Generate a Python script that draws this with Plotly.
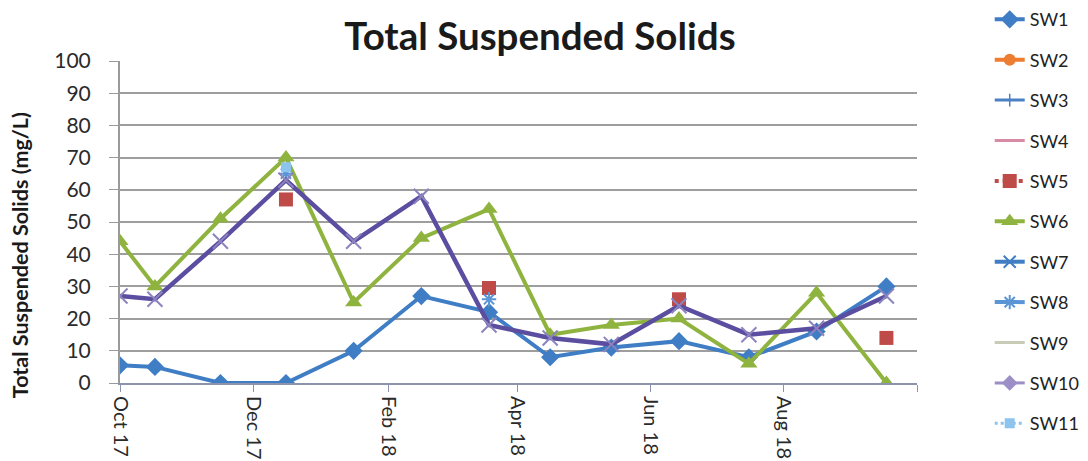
import plotly.graph_objects as go

# ---- data ----
sample_dates = ['2017-10-01', '2017-10-17', '2017-11-16', '2017-12-16', '2018-01-16',
                '2018-02-16', '2018-03-19', '2018-04-16', '2018-05-14', '2018-06-14',
                '2018-07-16', '2018-08-16', '2018-09-17']
sw1 = [5.5, 5, 0, 0, 10, 27, 22, 8, 11, 13, 8, 16, 30]
sw5 = [None, None, None, 57, None, None, 29.5, None, None, 26, None, None, 14]
sw6 = [44, 30, 51, 70, 25, 45, 54, 15, 18, 20, 6, 28, 0]
sw8 = [None, None, None, 65, None, None, 26, None, None, None, None, None, None]
sw11 = [None, None, None, 67, None, None, None, None, None, None, None, None, None]
sw_purple = [27, 26, 44, 63, 44, 58, 18, 14, 12, 24, 15, 17, 27]

tick_dates = ['2017-10-01', '2017-12-01', '2018-02-01', '2018-04-01',
              '2018-06-01', '2018-08-01', '2018-10-01']
tick_labels = ['Oct 17', 'Dec 17', 'Feb 18', 'Apr 18', 'Jun 18', 'Aug 18', '']
y_ticks = [0, 10, 20, 30, 40, 50, 60, 70, 80, 90, 100]

FONT = 'Lato'
fig = go.Figure()

def add(name, y, color, symbol, msize, lw=4, legend=True, mcolor=None, mline=0, dash='solid'):
    fig.add_trace(go.Scatter(
        x=sample_dates if y is not None else [None], y=y if y is not None else [None],
        name=name, legendgroup=name, showlegend=legend,
        mode='lines+markers' if symbol else 'lines',
        line=dict(color=color, width=lw, dash=dash),
        marker=dict(symbol=symbol or 'circle', size=msize, color=mcolor or color,
                    line=dict(width=mline, color=mcolor or color)),
        connectgaps=False, hoverinfo='skip'))

add('SW1', sw1, '#3F7DC4', 'diamond', 14)
add('SW2', None, '#ED7D31', 'circle', 12)
add('SW3', None, '#4A80C4', 'line-ns', 9, lw=3, mline=1.5)
add('SW4', None, '#D98BA5', None, 0, lw=3)
add('SW5', sw5, '#BE4B48', 'square', 14, dash='dot')
add('SW6', sw6, '#8FB33F', 'triangle-up', 15)
add('SW7', None, '#3F7DC4', 'x-thin', 12, mline=2)
add('SW8', sw8, '#5A95D6', 'asterisk', 12, mline=2)
add('SW9', None, '#C8CCB6', None, 0, lw=3)
add('SW10', None, '#9C8EC6', 'diamond', 12, lw=3)
# purple series with x markers drawn in the chart
fig.add_trace(go.Scatter(
    x=sample_dates, y=sw_purple, name='SW10', legendgroup='SW10', showlegend=False,
    mode='lines+markers', line=dict(color='#5B4DA0', width=4.5),
    marker=dict(symbol='x-thin', size=15, line=dict(width=2, color='#8C84BE')),
    hoverinfo='skip'))
add('SW11', sw11, '#8CC4EE', 'square', 10, lw=3, dash='dot')

# page body adds an 8px offset; figure is sized to fit the 1088x461 window
fig.update_layout(
    width=1080, height=453,
    margin=dict(l=112, r=171, t=53, b=78, autoexpand=False),
    paper_bgcolor='white', plot_bgcolor='white',
    font=dict(family=FONT, color='#333333'),
    title=dict(text='<b>Total Suspended Solids</b>', x=0.4925, xanchor='center',
               y=0.936, yanchor='middle', font=dict(family=FONT, size=38.5, color='#1a1a1a')),
    legend=dict(xref='container', yref='paper', x=0.909, xanchor='left',
                y=1.186, yanchor='top', maxheight=700,
                font=dict(family=FONT, size=18, color='#222222'),
                tracegroupgap=14, bgcolor='rgba(0,0,0,0)'),
    showlegend=True,
)
fig.update_xaxes(type='date', range=['2017-10-01', '2018-10-01'],
                 tickmode='array', tickvals=tick_dates, ticktext=tick_labels,
                 tickangle=90, ticks='outside', ticklen=7, tickcolor='#8C93AE',
                 showline=True, linecolor='#8C93AE', linewidth=2,
                 showgrid=False, zeroline=False,
                 tickfont=dict(family=FONT, size=20, color='#2a2a2a'))
fig.update_yaxes(range=[0, 100], tickmode='array', tickvals=y_ticks,
                 ticks='outside', ticklen=9, tickcolor='#9A9A9A', ticklabelstandoff=14,
                 showline=True, linecolor='#9A9A9A', linewidth=2,
                 showgrid=True, gridcolor='#9E9E9E', gridwidth=1.5, zeroline=False,
                 tickfont=dict(family=FONT, size=21, color='#2a2a2a'))
fig.add_annotation(text='<b>Total Suspended Solids (mg/L)</b>', textangle=-90,
                   xref='paper', yref='paper', x=-0.1255, y=0.397,
                   xanchor='center', yanchor='middle', showarrow=False,
                   font=dict(family=FONT, size=21.5, color='#1a1a1a'))

fig.write_html('out.html')
